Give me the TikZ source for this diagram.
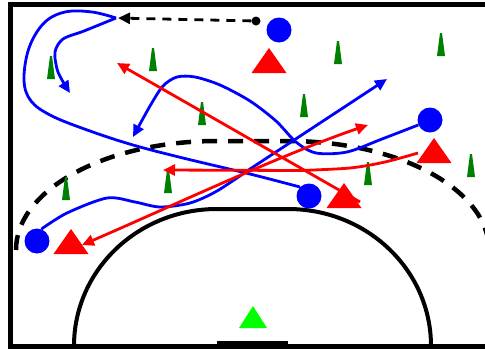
\documentclass[tikz,border=0pt]{standalone}
\usepackage{xcolor}
\usepackage{tikz}
\usetikzlibrary{arrows.meta}

\begin{document}
\begin{tikzpicture}[x=1pt, y=-1pt,
    player/.style={circle, fill=blue, minimum size=25pt, inner sep=0pt},
    ballnode/.style={circle, fill=black, minimum size=9pt, inner sep=0pt},
    runline/.style={blue, line width=2.8pt},
    shotline/.style={red, line width=2.8pt},
    passline/.style={black, line width=2.8pt, dash pattern=on 9pt off 7pt},
    >={Triangle[length=12pt,width=11pt]}]
  \useasboundingbox (0,0) rectangle (485,349);
  \draw[line width=5pt] (495,4.5) -- (10.5,4.5) -- (10.5,346) -- (495,346);
  \draw[line width=4pt] (74,346) .. controls (74,270) and (138,209) .. (217,209)
    -- (288,209) .. controls (367,209) and (431,270) .. (431,346);
  \draw[line width=4.5pt, dash pattern=on 15pt off 11pt] (16,250) .. controls (16,190) and (105,141) .. (217,141)
    -- (288,141) .. controls (400,141) and (489,190) .. (489,250);
  \draw[line width=4pt] (217,343) -- (288,343);
  \foreach \x/\y in {51/56, 153/48, 202/102, 338/41, 441/33, 304/94, 368/162, 471/154, 66/177, 168/170}
    \fill[green!50!black] (\x-1,\y) -- (\x+1,\y) -- (\x+4,\y+23) -- (\x-4,\y+23) -- cycle;
  \fill[green] (253,306) -- (267,328) -- (239,328) -- cycle;

  \node[player] (p1) at (279,30) {};
  \node[player] (p2) at (430,120) {};
  \node[player] (p3) at (309,196) {};
  \node[player] (p4) at (37,241) {};
  \node[ballnode] (ball) at (256,21) {};

  \coordinate (catch) at (116,18);
  \coordinate (runB) at (70,93);
  \coordinate (runC) at (133,137);
  \coordinate (runD) at (387,79);
  \coordinate (shotA) at (117,63);
  \coordinate (shotAfrom) at (360,202);
  \coordinate (shotB) at (163,170);
  \coordinate (shotBfrom) at (418,153);
  \coordinate (shotC1) at (82,245);
  \coordinate (shotC2) at (368,125);

  \draw[runline] plot[smooth, tension=0.6] coordinates {(p3.135) (250,174) (183,158) (133,145) (90,131)
    (52,116) (31,101) (24,80) (29,48) (44,23) (65,12) (92,12) (catch)};
  \draw[runline,->] plot[smooth] coordinates {(catch) (84,31) (63,39) (55,52) (58,72) (runB)};
  \draw[runline,->] plot[smooth] coordinates {(p2.203) (382,139) (347,152) (316,153) (296,142) (276,121)
    (250,101) (220,85) (195,77) (177,77) (163,86) (150,106) (runC)};
  \draw[runline,->] plot[smooth] coordinates {(p4.70) (67,213) (107,198) (135,202) (160,207) (190,203)
    (217,191) (250,169)} -- (runD);

  \draw[shotline,->] (shotAfrom) -- (shotA);
  \draw[shotline,->] plot[smooth] coordinates {(shotBfrom) (385,162) (350,168) (300,170.5)} -- (shotB);
  \draw[shotline,<->] (shotC1) .. controls (170,207) and (280,155) .. (shotC2);
  \draw[passline,->,shorten >=2pt] (ball) -- (catch);

  \foreach \x/\y in {269/48, 434/138, 344/183, 71/229}
    \fill[red] (\x,\y) -- (\x+17.5,\y+25) -- (\x-17.5,\y+25) -- cycle;
\end{tikzpicture}
\end{document}
